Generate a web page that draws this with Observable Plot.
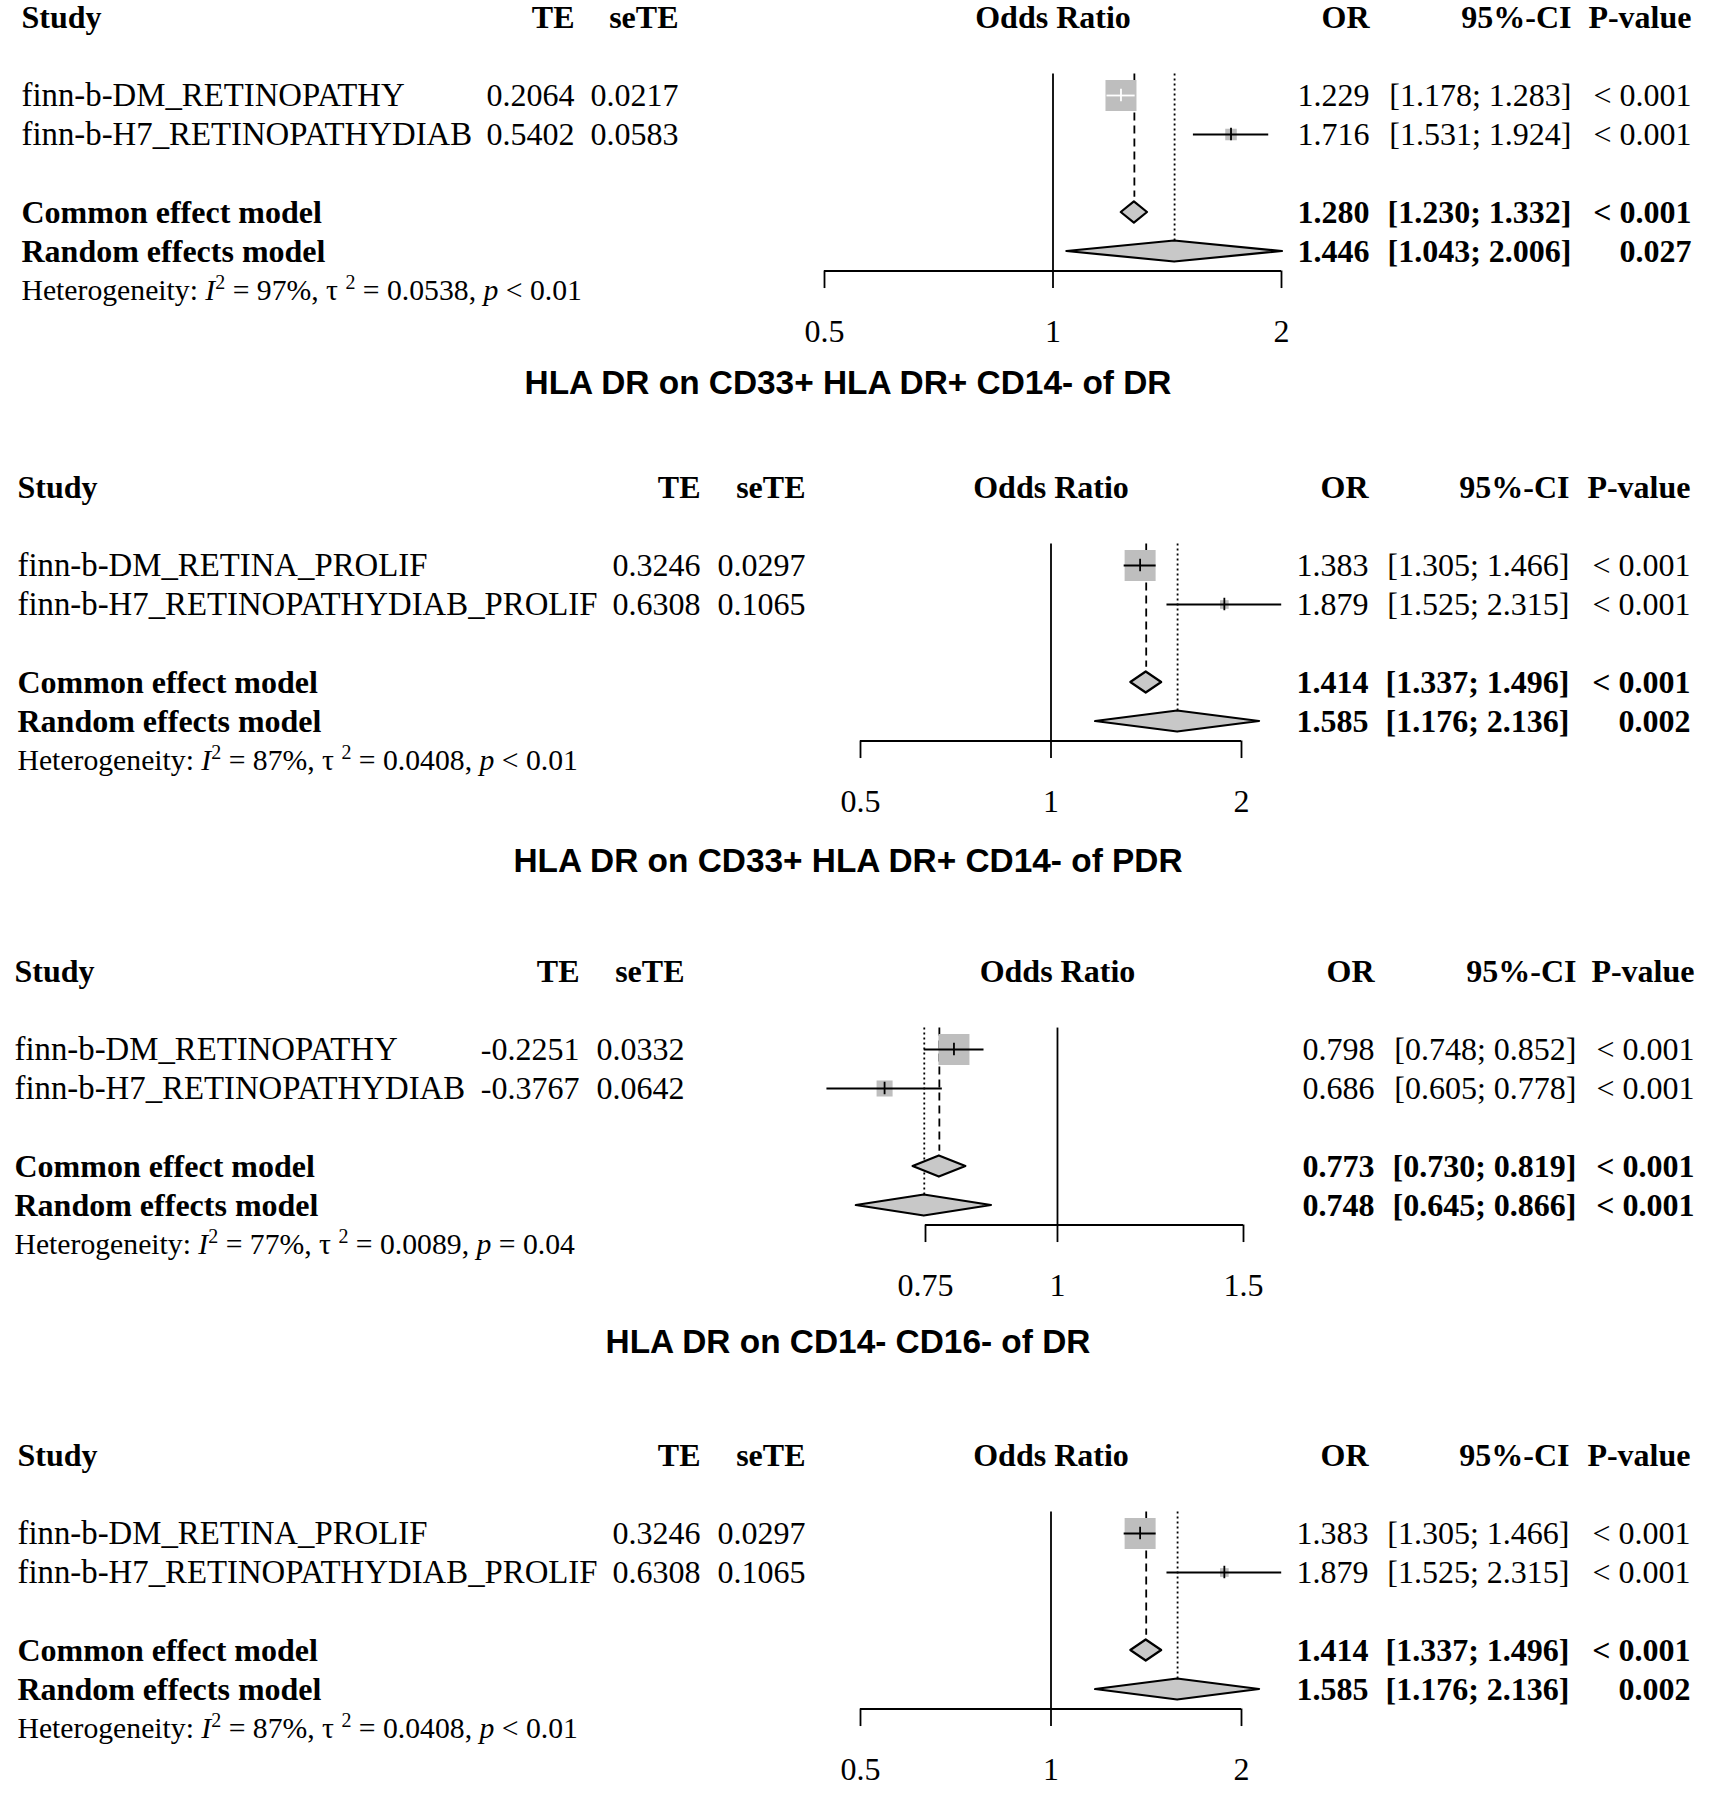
<!DOCTYPE html>
<html><head><meta charset="utf-8">
<script src="https://cdn.jsdelivr.net/npm/d3@7"></script>
<script src="https://cdn.jsdelivr.net/npm/@observablehq/plot@0.6"></script>
<style>
body{margin:0;background:#fff;}
#root{position:relative;width:1709px;height:1794px;overflow:hidden;background:#fff;}
.ttl{position:absolute;left:0;width:1696px;text-align:center;font:bold 33.4px "Liberation Sans",Arial,sans-serif;color:#000;line-height:34px;white-space:nowrap;}
.panel{position:absolute;left:0;}
</style></head><body><div id="root"></div>
<script>
// ---------------- data ----------------
const panelTitles = [null, "HLA DR on CD33+ HLA DR+ CD14- of DR", "HLA DR on CD33+ HLA DR+ CD14- of PDR", "HLA DR on CD14- CD16- of DR"];
const studyNames = [
  ["finn-b-DM_RETINOPATHY", "finn-b-H7_RETINOPATHYDIAB"],
  ["finn-b-DM_RETINA_PROLIF", "finn-b-H7_RETINOPATHYDIAB_PROLIF"],
  ["finn-b-DM_RETINOPATHY", "finn-b-H7_RETINOPATHYDIAB"],
  ["finn-b-DM_RETINA_PROLIF", "finn-b-H7_RETINOPATHYDIAB_PROLIF"]
];
const TE = [[0.2064, 0.5402], [0.3246, 0.6308], [-0.2251, -0.3767], [0.3246, 0.6308]];
const seTE = [[0.0217, 0.0583], [0.0297, 0.1065], [0.0332, 0.0642], [0.0297, 0.1065]];
const OR = [[1.229, 1.716], [1.383, 1.879], [0.798, 0.686], [1.383, 1.879]];
const lowerCI = [[1.178, 1.531], [1.305, 1.525], [0.748, 0.605], [1.305, 1.525]];
const upperCI = [[1.283, 1.924], [1.466, 2.315], [0.852, 0.778], [1.466, 2.315]];
const pStudy = [["< 0.001", "< 0.001"], ["< 0.001", "< 0.001"], ["< 0.001", "< 0.001"], ["< 0.001", "< 0.001"]];
const commonOR = [1.280, 1.414, 0.773, 1.414];
const commonLo = [1.230, 1.337, 0.730, 1.337];
const commonHi = [1.332, 1.496, 0.819, 1.496];
const commonP = ["< 0.001", "< 0.001", "< 0.001", "< 0.001"];
const randomOR = [1.446, 1.585, 0.748, 1.585];
const randomLo = [1.043, 1.176, 0.645, 1.176];
const randomHi = [2.006, 2.136, 0.866, 2.136];
const randomP = ["0.027", "0.002", "< 0.001", "0.002"];
const hetI2 = ["97%", "87%", "77%", "87%"];
const hetTau2 = ["0.0538", "0.0408", "0.0089", "0.0408"];
const hetP = ["< 0.01", "< 0.01", "= 0.04", "< 0.01"];
const axisTicks = [[0.5, 1, 2], [0.5, 1, 2], [0.75, 1, 1.5], [0.5, 1, 2]];
const axisDomain = [[0.5, 2], [0.5, 2], [0.75, 1.5], [0.5, 2]];
const headers = ["Study", "TE", "seTE", "Odds Ratio", "OR", "95%-CI", "P-value"];

// ---------------- layout (page pixels) ----------------
const layout = [
  {top: 17,   xRange: [824, 1281], study: 21, te: 574, se: 678, or: 1369, ci: 1571, p: 1691},
  {top: 487,  xRange: [860, 1241], study: 17, te: 700, se: 805, or: 1368, ci: 1569, p: 1690},
  {top: 971,  xRange: [925, 1243], study: 14, te: 579, se: 684, or: 1374, ci: 1576, p: 1694},
  {top: 1455, xRange: [860, 1241], study: 17, te: 700, se: 805, or: 1368, ci: 1569, p: 1690}
];
const titleY = [null, 383, 861, 1342];
const ROWPX = 39, TOPPAD = 25, SVGH = 360, MAXSIDE = 31, H = 0.27;
const FONT = "'Liberation Serif','Times New Roman',serif";
const FS = 32, NAMEFS = 32.8, HETFS = 29.7, SUPFS = 20;
const SQUARE = "#bebebe", DIAMOND = "#c8c8c8";
const LW = 1.8;

const root = document.getElementById("root");
const f3 = d3.format(".3f");
const f4 = v => v.toFixed(4);
const ci = (lo, hi) => `[${f3(lo)}; ${f3(hi)}]`;

function panel(i) {
  const L = layout[i];
  const rows = studyNames[i].map((s, j) => ({
    name: s, te: TE[i][j], se: seTE[i][j], or: OR[i][j], lo: lowerCI[i][j], hi: upperCI[i][j], p: pStudy[i][j], row: 2 + j
  }));
  const w = rows.map(d => 1 / (d.se * d.se));
  const wmax = d3.max(w);
  const pxPerLn = (L.xRange[1] - L.xRange[0]) / Math.log(axisDomain[i][1] / axisDomain[i][0]);
  rows.forEach((d, j) => {
    d.side = MAXSIDE * Math.sqrt(w[j] / wmax);
    d.white = Math.log(d.hi / d.lo) * pxPerLn < d.side;
  });
  const pooled = [
    {label: "Common effect model", or: commonOR[i], lo: commonLo[i], hi: commonHi[i], p: commonP[i], row: 5},
    {label: "Random effects model", or: randomOR[i], lo: randomLo[i], hi: randomHi[i], p: randomP[i], row: 6}
  ];
  const diamond = pooled.flatMap(d => [
    {k: d.label, x: d.lo, y1: d.row, y2: d.row},
    {k: d.label, x: d.or, y1: d.row - H, y2: d.row + H},
    {k: d.label, x: d.hi, y1: d.row, y2: d.row}
  ]);
  const het = [{row: 7, text: `Heterogeneity: I2 = ${hetI2[i]}, τ 2 = ${hetTau2[i]}, p ${hetP[i]}`}];
  const ticks = axisTicks[i];
  const dom = axisDomain[i];
  const left = (dx, opts = {}) => ({frameAnchor: "left", dx, textAnchor: "start", ...opts});
  const right = (dx, opts = {}) => ({frameAnchor: "left", dx, textAnchor: "end", ...opts});
  const hdr = [{row: 0}];

  const marks = [
    // header
    Plot.text(hdr, {y: "row", text: () => headers[0], fontWeight: "bold", ...left(L.study)}),
    Plot.text(hdr, {y: "row", text: () => headers[1], fontWeight: "bold", ...right(L.te)}),
    Plot.text(hdr, {y: "row", text: () => headers[2], fontWeight: "bold", ...right(L.se)}),
    Plot.text(hdr, {x: () => 1, y: "row", text: () => headers[3], fontWeight: "bold"}),
    Plot.text(hdr, {y: "row", text: () => headers[4], fontWeight: "bold", ...right(L.or)}),
    Plot.text(hdr, {y: "row", text: () => headers[5], fontWeight: "bold", ...right(L.ci)}),
    Plot.text(hdr, {y: "row", text: () => headers[6], fontWeight: "bold", ...right(L.p)}),
    // study rows text
    Plot.text(rows, {y: "row", text: "name", fontSize: NAMEFS, ...left(L.study)}),
    Plot.text(rows, {y: "row", text: d => f4(d.te), ...right(L.te)}),
    Plot.text(rows, {y: "row", text: d => f4(d.se), ...right(L.se)}),
    Plot.text(rows, {y: "row", text: d => f3(d.or), ...right(L.or)}),
    Plot.text(rows, {y: "row", text: d => ci(d.lo, d.hi), ...right(L.ci)}),
    Plot.text(rows, {y: "row", text: "p", ...right(L.p)}),
    // pooled text
    Plot.text(pooled, {y: "row", text: "label", fontWeight: "bold", ...left(L.study)}),
    Plot.text(pooled, {y: "row", text: d => f3(d.or), fontWeight: "bold", ...right(L.or)}),
    Plot.text(pooled, {y: "row", text: d => ci(d.lo, d.hi), fontWeight: "bold", ...right(L.ci)}),
    Plot.text(pooled, {y: "row", text: "p", fontWeight: "bold", ...right(L.p)}),
    // heterogeneity
    Plot.text(het, {y: "row", text: "text", fontSize: HETFS, ...left(L.study)}),
    // reference lines
    Plot.ruleX([1], {x: d => d, y1: 1.45, y2: 6.5, stroke: "black", strokeWidth: LW}),
    Plot.ruleX([commonOR[i]], {x: d => d, y1: 1.45, y2: 5 - H - 0.12, stroke: "black", strokeWidth: LW, strokeDasharray: "8,5"}),
    Plot.ruleX([randomOR[i]], {x: d => d, y1: 1.45, y2: 6 - H, stroke: "black", strokeWidth: LW, strokeDasharray: "2,3"}),
    // axis
    Plot.ruleY([6.5], {y: d => d, x1: dom[0], x2: dom[1], stroke: "black", strokeWidth: LW}),
    Plot.ruleX(ticks, {x: d => d, y1: 6.5, y2: 6.95, stroke: "black", strokeWidth: LW}),
    Plot.text(ticks, {x: d => d, y: 8.05, text: d => String(d)}),
    // squares
    ...rows.map(d => Plot.dot([d], {x: "or", y: "row", symbol: "square", r: d.side / Math.sqrt(Math.PI), fill: SQUARE, stroke: "none"})),
    // CI lines and estimate ticks
    Plot.ruleY(rows.filter(d => !d.white), {y: "row", x1: "lo", x2: "hi", stroke: "black", strokeWidth: LW}),
    Plot.ruleY(rows.filter(d => d.white), {y: "row", x1: "lo", x2: "hi", stroke: "white", strokeWidth: LW}),
    Plot.ruleX(rows.filter(d => !d.white), {x: "or", y1: d => d.row - 0.16, y2: d => d.row + 0.16, stroke: "black", strokeWidth: LW}),
    Plot.ruleX(rows.filter(d => d.white), {x: "or", y1: d => d.row - 0.16, y2: d => d.row + 0.16, stroke: "white", strokeWidth: LW}),
    // diamonds
    Plot.areaY(diamond, {x: "x", y1: "y1", y2: "y2", z: "k", fill: DIAMOND, stroke: "black", strokeWidth: 2.2, curve: "linear"})
  ];

  const svg = Plot.plot({
    width: 1709,
    height: SVGH,
    margin: 0,
    x: {type: "log", domain: dom, range: L.xRange, axis: null},
    y: {domain: [0, 8], range: [TOPPAD, TOPPAD + 8 * ROWPX], axis: null},
    style: {fontFamily: FONT, fontSize: FS + "px", background: "transparent", color: "black", overflow: "visible"},
    marks
  });
  // rich heterogeneity text (italic I and p, superscripts)
  svg.querySelectorAll("text").forEach(t => {
    if (!t.textContent.startsWith("Heterogeneity:")) return;
    const parts = [
      ["Heterogeneity: ", null], ["I", "italic"], ["2", "sup"], [` = ${hetI2[i]}, τ `, null],
      ["2", "sup"], [` = ${hetTau2[i]}, `, null], ["p", "italic"], [` ${hetP[i]}`, null]
    ];
    t.textContent = "";
    const ns = "http://www.w3.org/2000/svg";
    let raised = false;
    for (const [s, kind] of parts) {
      const sp = document.createElementNS(ns, "tspan");
      sp.textContent = s;
      if (kind === "italic") sp.setAttribute("font-style", "italic");
      if (kind === "sup") { sp.setAttribute("font-size", SUPFS); sp.setAttribute("dy", -11); raised = true; }
      else if (raised) { sp.setAttribute("dy", 11); raised = false; }
      t.appendChild(sp);
    }
  });
  svg.classList.add("panel");
  svg.style.position = "absolute";
  svg.style.top = (L.top - TOPPAD) + "px";
  svg.style.left = "0px";
  return svg;
}

for (let i = 0; i < 4; i++) {
  root.appendChild(panel(i));
  if (panelTitles[i]) {
    const d = document.createElement("div");
    d.className = "ttl";
    d.textContent = panelTitles[i];
    d.style.top = (titleY[i] - 17) + "px";
    root.appendChild(d);
  }
}
</script></body></html>
